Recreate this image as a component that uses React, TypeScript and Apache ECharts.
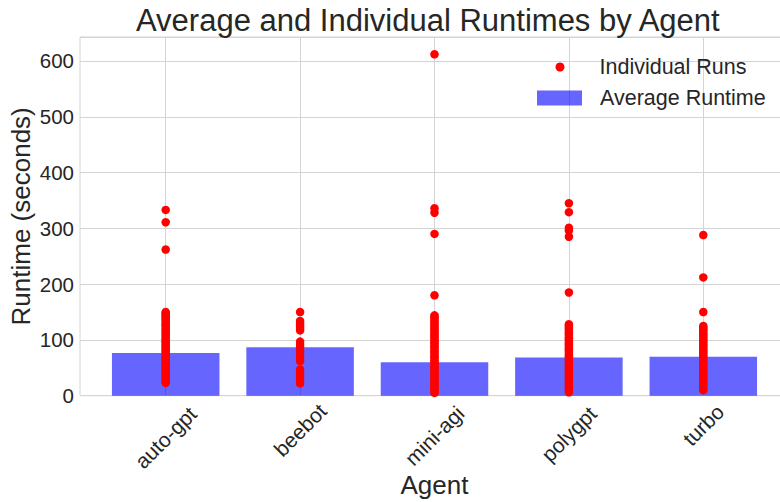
import React, { useEffect, useRef } from "react";
import * as echarts from "echarts";

const agents = ["auto-gpt", "beebot", "mini-agi", "polygpt", "turbo"];
const averageRuntime = [76.5, 87, 60, 68.5, 70];

const autoGptRuns = [333, 311, 262, 150, 148, 145, 142, 139, 136, 133, 129, 126, 124, 120, 117, 114, 111, 108, 104, 101, 98, 96, 92, 89, 86, 83, 80, 77, 74, 71, 68, 65, 62, 59, 56, 53, 50, 47, 44, 41, 38, 35, 32, 29, 26, 23];
const beebotRuns = [150, 134, 129, 125, 121, 117, 97, 92, 87, 80, 74, 68, 62, 47, 41, 35, 29, 22];
const miniAgiRuns = [612, 336, 328, 290, 180, 144, 141, 138, 134, 131, 127, 124, 121, 117, 114, 110, 107, 104, 100, 97, 94, 90, 87, 84, 80, 77, 73, 70, 67, 63, 60, 57, 53, 50, 47, 43, 40, 37, 33, 30, 27, 23, 20, 17, 13, 10, 7, 5];
const polygptRuns = [345, 329, 301, 296, 285, 185, 128, 125, 122, 119, 115, 112, 109, 105, 102, 99, 95, 92, 89, 85, 82, 79, 75, 72, 69, 65, 62, 59, 55, 52, 49, 45, 42, 39, 35, 32, 29, 25, 22, 19, 15, 12, 9, 6];
const turboRuns = [288, 212, 150, 125, 122, 119, 116, 112, 109, 106, 102, 99, 96, 92, 89, 86, 82, 79, 76, 72, 69, 66, 62, 59, 56, 52, 49, 46, 42, 39, 36, 32, 29, 26, 22, 19, 16, 12, 10];

const yTicks = [0, 100, 200, 300, 400, 500, 600];
const yMax = 643;

const FONT = "'Liberation Sans', Arial, sans-serif";
const TEXT = "#262626";
const GRID_COLOR = "#d4d4d4";

// per-label offsets (down from axis to label center), in px
const labelDrop = [41.8, 34.3, 40, 38.3, 29.3];

export default function App() {
  const ref = useRef<HTMLDivElement>(null);
  useEffect(() => {
    if (!ref.current) return;
    const chart = echarts.init(ref.current, null, { renderer: "svg" });
    const runsByAgent = [autoGptRuns, beebotRuns, miniAgiRuns, polygptRuns, turboRuns];
    const scatterData: [string, number][] = [];
    runsByAgent.forEach((runs, i) => runs.forEach((v) => scatterData.push([agents[i], v])));

    const rich: Record<string, any> = {};
    labelDrop.forEach((d, i) => {
      const p = Math.SQRT2 * d;
      rich["c" + i] = { fontSize: 21, fontFamily: FONT, color: TEXT, padding: [p, p, 0, 0] };
    });

    chart.setOption({
      animation: false,
      backgroundColor: "#ffffff",
      title: {
        text: "Average and Individual Runtimes by Agent",
        left: 136,
        top: 5,
        padding: 0,
        textStyle: { fontSize: 31, fontWeight: "normal", fontFamily: FONT, color: TEXT },
      },
      legend: [
        {
          data: [{ name: "Individual Runs", icon: "circle" }],
          left: 555.5,
          top: 56,
          padding: 0,
          itemWidth: 9,
          itemHeight: 9,
          textStyle: { fontSize: 21.5, fontFamily: FONT, color: TEXT, padding: [0, 0, 0, 30] },
        },
        {
          data: [{ name: "Average Runtime", icon: "rect" }],
          left: 537,
          top: 87,
          padding: 0,
          itemWidth: 45,
          itemHeight: 15,
          textStyle: { fontSize: 21.5, fontFamily: FONT, color: TEXT, padding: [0, 0, 0, 13] },
        },
      ],
      grid: [
        { left: 98.5, width: 672, top: 37, height: 358.7, containLabel: false, outerBoundsMode: "none" },
        {
          left: 80,
          width: 709.6,
          top: 37,
          height: 358.7,
          show: true,
          borderColor: GRID_COLOR,
          borderWidth: 1,
          backgroundColor: "transparent",
          containLabel: false,
          outerBoundsMode: "none",
          z: 0,
        },
      ],
      xAxis: [
        {
          type: "category",
          gridIndex: 0,
          data: agents,
          boundaryGap: true,
          axisLine: { show: false },
          axisTick: { show: false },
          splitLine: { show: false },
          axisLabel: {
            interval: 0,
            rotate: 45,
            margin: 0,
            align: "center",
            verticalAlign: "middle",
            fontSize: 21,
            fontFamily: FONT,
            color: TEXT,
            formatter: (value: string, index: number) => `{c${index}|${value}}`,
            rich,
          },
          name: "Agent",
          nameLocation: "middle",
          nameGap: 76,
          nameMoveOverlap: false,
          nameTextStyle: { fontSize: 26, fontFamily: FONT, color: TEXT },
        },
        { type: "value", gridIndex: 1, show: false, min: 0, max: 1 },
      ],
      yAxis: [
        { type: "value", gridIndex: 0, min: 0, max: yMax, show: false, splitLine: { show: false } },
        {
          type: "value",
          gridIndex: 1,
          min: yTicks[0],
          max: yMax,
          interval: 100,
          axisLine: { show: false },
          axisTick: { show: false },
          splitLine: { show: true, lineStyle: { color: GRID_COLOR, width: 1 } },
          axisLabel: {
            margin: 6,
            fontSize: 20.5,
            fontFamily: FONT,
            color: TEXT,
            showMaxLabel: false,
            formatter: (v: number) => (yTicks.includes(v) ? String(v) : ""),
          },
          name: "Runtime (seconds)",
          nameLocation: "middle",
          nameGap: 46,
          nameMoveOverlap: false,
          nameTextStyle: { fontSize: 26, fontFamily: FONT, color: TEXT },
        },
      ],
      series: [
        {
          type: "bar",
          name: "Average Runtime",
          xAxisIndex: 0,
          yAxisIndex: 0,
          data: averageRuntime,
          barWidth: "80%",
          itemStyle: { color: "rgba(0,0,255,0.6)" },
          z: 2,
          markLine: {
            silent: true,
            symbol: "none",
            z: 1,
            label: { show: false },
            lineStyle: { color: GRID_COLOR, width: 1, type: "solid" },
            data: agents.map((a) => ({ xAxis: a })),
          },
        },
        {
          type: "scatter",
          name: "Individual Runs",
          xAxisIndex: 0,
          yAxisIndex: 0,
          data: scatterData,
          symbol: "circle",
          symbolSize: 8.5,
          itemStyle: { color: "#ff0000", opacity: 1 },
          z: 3,
        },
      ],
    });
    return () => chart.dispose();
  }, []);
  return (
    <div
      ref={ref}
      style={{ position: "absolute", left: 0, top: 0, width: 780, height: 502 }}
    />
  );
}
